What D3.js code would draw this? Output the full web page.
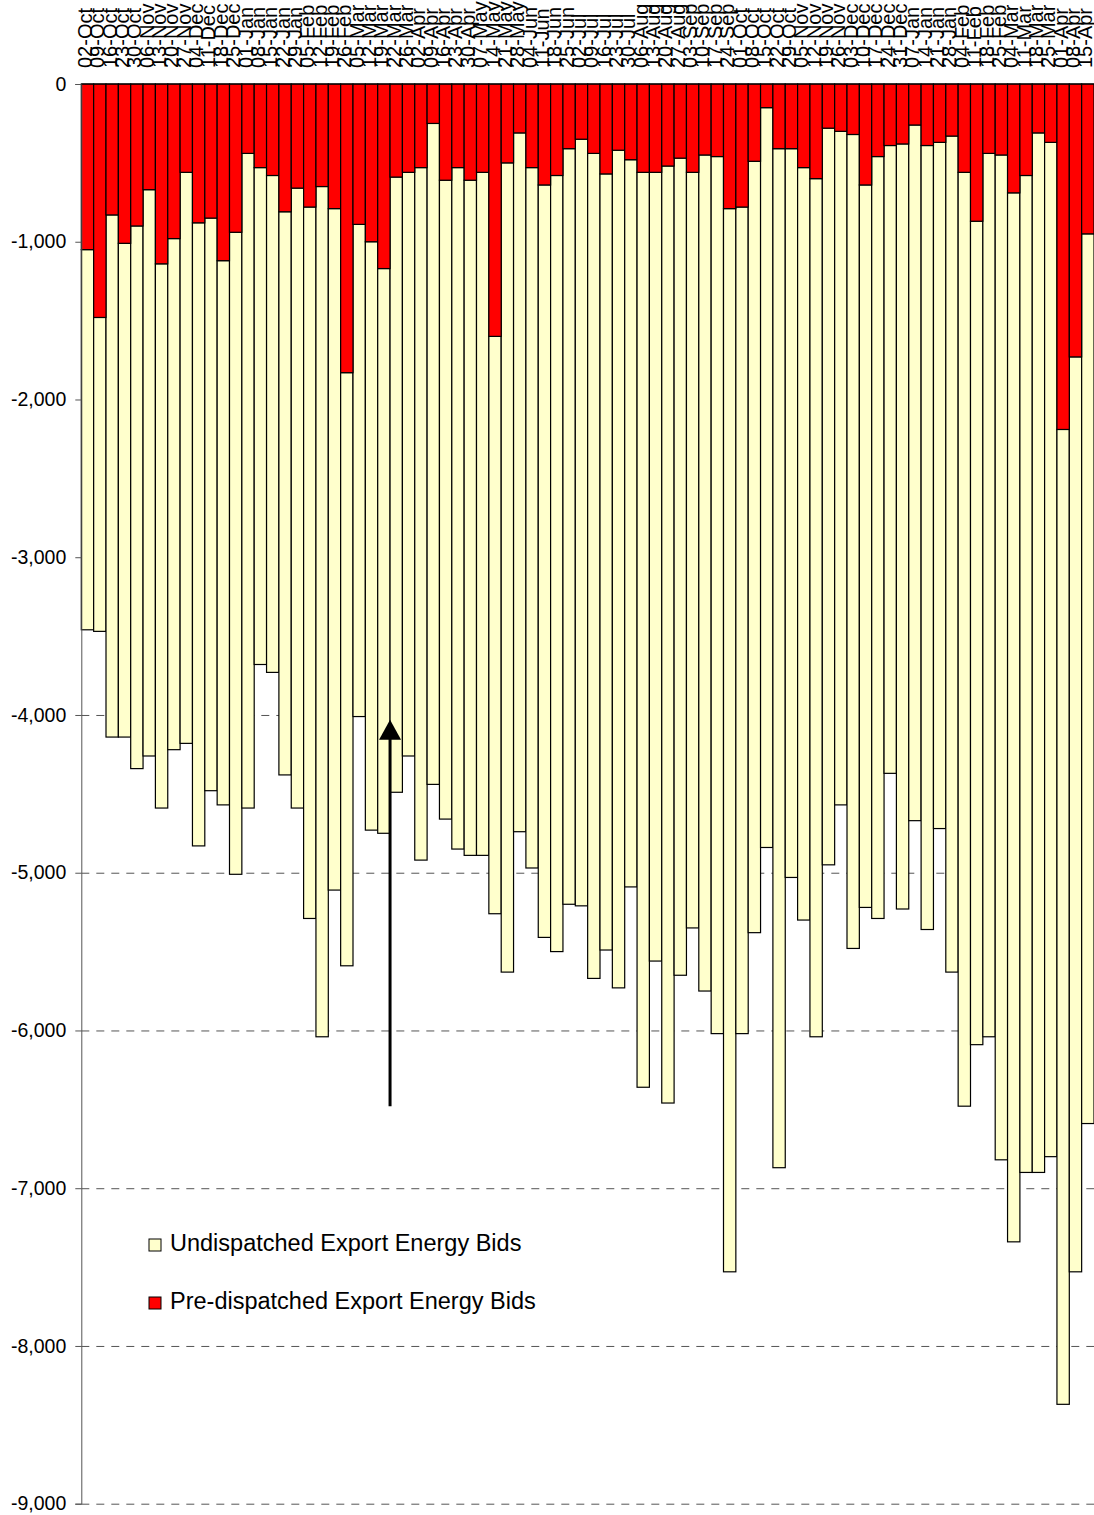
<!DOCTYPE html>
<html>
<head>
<meta charset="utf-8">
<script src="https://cdn.jsdelivr.net/npm/d3@7"></script>
<style>
  body { margin: 0; background: #fff; }
  svg { display: block; font-family: "Liberation Sans", Arial, sans-serif; }
</style>
</head>
<body>
<svg></svg>
<script>
const width = 1094;
const height = 1515;

// week labels (one split week in March)
const weeks = [
  "02-Oct", "09-Oct", "16-Oct", "23-Oct", "30-Oct", "06-Nov", "13-Nov", "20-Nov", "27-Nov",
  "04-Dec", "11-Dec", "18-Dec", "25-Dec", "01-Jan", "08-Jan", "15-Jan", "22-Jan", "29-Jan",
  "05-Feb", "12-Feb", "19-Feb", "26-Feb", "05-Mar", "12-Mar", "19-Mar", "22-Mar", "26-Mar",
  "02-Apr", "09-Apr", "16-Apr", "23-Apr", "30-Apr", "07-May", "14-May", "21-May", "28-May",
  "04-Jun", "11-Jun", "18-Jun", "25-Jun", "02-Jul", "09-Jul", "16-Jul", "23-Jul", "30-Jul",
  "06-Aug", "13-Aug", "20-Aug", "27-Aug", "03-Sep", "10-Sep", "17-Sep", "24-Sep",
  "01-Oct", "08-Oct", "15-Oct", "22-Oct", "29-Oct", "05-Nov", "12-Nov", "19-Nov", "26-Nov",
  "03-Dec", "10-Dec", "17-Dec", "24-Dec", "31-Dec", "07-Jan", "14-Jan", "21-Jan", "28-Jan",
  "04-Feb", "11-Feb", "18-Feb", "25-Feb", "04-Mar", "11-Mar", "18-Mar", "25-Mar",
  "01-Apr", "08-Apr", "15-Apr"
];

const preDispatched = [
  -1050, -1480, -830, -1010, -900, -670, -1140, -980, -560, -880,
  -850, -1120, -940, -440, -530, -580, -810, -660, -780, -650,
  -790, -1830, -890, -1000, -1170, -590, -560, -530, -250, -610,
  -530, -610, -560, -1600, -500, -310, -530, -640, -580, -410,
  -350, -440, -570, -420, -480, -560, -560, -520, -470, -560,
  -450, -460, -790, -780, -490, -150, -410, -410, -530, -600,
  -280, -300, -320, -640, -460, -390, -380, -260, -390, -370,
  -330, -560, -870, -440, -450, -690, -580, -310, -370, -2190,
  -1730, -950
];

const undispatched = [
  -2410, -1990, -3310, -3130, -3440, -3590, -3450, -3240, -3620, -3950,
  -3630, -3450, -4070, -4150, -3150, -3150, -3570, -3930, -4510, -5390,
  -4320, -3760, -3120, -3730, -3580, -3900, -3700, -4390, -4190, -4050,
  -4320, -4280, -4330, -3660, -5130, -4430, -4440, -4770, -4920, -4790,
  -4860, -5230, -4920, -5310, -4610, -5800, -5000, -5940, -5180, -4790,
  -5300, -5560, -6740, -5240, -4890, -4690, -6460, -4620, -4770, -5440,
  -4670, -4270, -5160, -4580, -4830, -3980, -4850, -4410, -4970, -4350,
  -5300, -5920, -5220, -5600, -6370, -6650, -6320, -6590, -6430, -6180,
  -5800, -5640
];

const seriesNames = ["Undispatched Export Energy Bids", "Pre-dispatched Export Energy Bids"];
const seriesColors = ["#FFFFCC", "#FF0000"];

const yTicks = [0, -1000, -2000, -3000, -4000, -5000, -6000, -7000, -8000, -9000];

// arrow annotation (from / to values)
const arrowWeek = "22-Mar";
const arrowFrom = -6480;
const arrowTo = -4030;

const svg = d3.select("svg")
    .attr("width", width)
    .attr("height", height);

const x = d3.scaleBand()
    .domain(weeks)
    .range([81.3, 1094])
    .padding(0);

const y = d3.scaleLinear()
    .domain([-9000, 0])
    .range([1503.7, 84]);

// gridlines
svg.append("g")
    .selectAll("line")
    .data(yTicks.filter(d => d !== 0))
    .enter().append("line")
    .attr("x1", x.range()[0])
    .attr("x2", x.range()[1])
    .attr("y1", d => y(d) + 0.5)
    .attr("y2", d => y(d) + 0.5)
    .attr("stroke", "#555")
    .attr("stroke-width", 1)
    .attr("stroke-dasharray", "8,7");

// stacked bars: red from 0 down, yellow below it
const rows = weeks.map((w, i) => ({
    week: w,
    pre: preDispatched[i],
    und: undispatched[i]
}));

const bars = svg.append("g");

bars.selectAll(".und")
    .data(rows)
    .enter().append("rect")
    .attr("class", "und")
    .attr("x", d => x(d.week))
    .attr("width", x.bandwidth())
    .attr("y", d => y(d.pre))
    .attr("height", d => y(d.pre + d.und) - y(d.pre))
    .attr("fill", seriesColors[0])
    .attr("stroke", "#000")
    .attr("stroke-width", 1.2);

bars.selectAll(".pre")
    .data(rows)
    .enter().append("rect")
    .attr("class", "pre")
    .attr("x", d => x(d.week))
    .attr("width", x.bandwidth())
    .attr("y", y(0))
    .attr("height", d => y(d.pre) - y(0))
    .attr("fill", seriesColors[1])
    .attr("stroke", "#000")
    .attr("stroke-width", 1.2);

// y axis, plain hyphen for the minus sign
const fmt = d3.format(",");
const yAxis = svg.append("g")
    .attr("transform", `translate(${x.range()[0]},0)`)
    .call(d3.axisLeft(y)
        .tickValues(yTicks)
        .tickSize(6)
        .tickPadding(9)
        .tickFormat(d => fmt(d).replace("\u2212", "-")));

yAxis.select(".domain").attr("stroke", "#555");
yAxis.selectAll(".tick line").attr("stroke", "#555");
yAxis.selectAll(".tick text")
    .attr("font-size", 19.5)
    .attr("font-family", "Liberation Sans, Arial, sans-serif")
    .attr("fill", "#000");

// category axis along the zero line
svg.append("line")
    .attr("x1", x.range()[0])
    .attr("x2", x.range()[1])
    .attr("y1", y(0))
    .attr("y2", y(0))
    .attr("stroke", "#000")
    .attr("stroke-width", 1.2);

svg.append("g")
    .selectAll("text")
    .data(weeks)
    .enter().append("text")
    .attr("transform", d => `translate(${x(d) + x.bandwidth() / 2 + 4.5},68) rotate(-90)`)
    .attr("text-anchor", "start")
    .attr("font-size", 20)
    .attr("fill", "#000")
    .text(d => d);

// arrow
const ax = x(arrowWeek);
svg.append("line")
    .attr("x1", ax)
    .attr("x2", ax)
    .attr("y1", y(arrowFrom))
    .attr("y2", y(arrowTo) + 16)
    .attr("stroke", "#000")
    .attr("stroke-width", 3);

svg.append("path")
    .attr("d", `M${ax},${y(arrowTo)} L${ax - 11},${y(arrowTo) + 20} L${ax + 11},${y(arrowTo) + 20} Z`)
    .attr("fill", "#000");

// legend
const legend = svg.append("g")
    .attr("transform", "translate(149,1239)")
    .selectAll("g")
    .data(seriesNames)
    .enter().append("g")
    .attr("transform", (d, i) => `translate(0,${i * 58})`);

legend.append("rect")
    .attr("width", 12)
    .attr("height", 12)
    .attr("fill", (d, i) => seriesColors[i])
    .attr("stroke", "#000")
    .attr("stroke-width", 1);

legend.append("text")
    .attr("x", 21)
    .attr("y", 12)
    .attr("font-size", 23.5)
    .attr("fill", "#000")
    .text(d => d);
</script>
</body>
</html>
